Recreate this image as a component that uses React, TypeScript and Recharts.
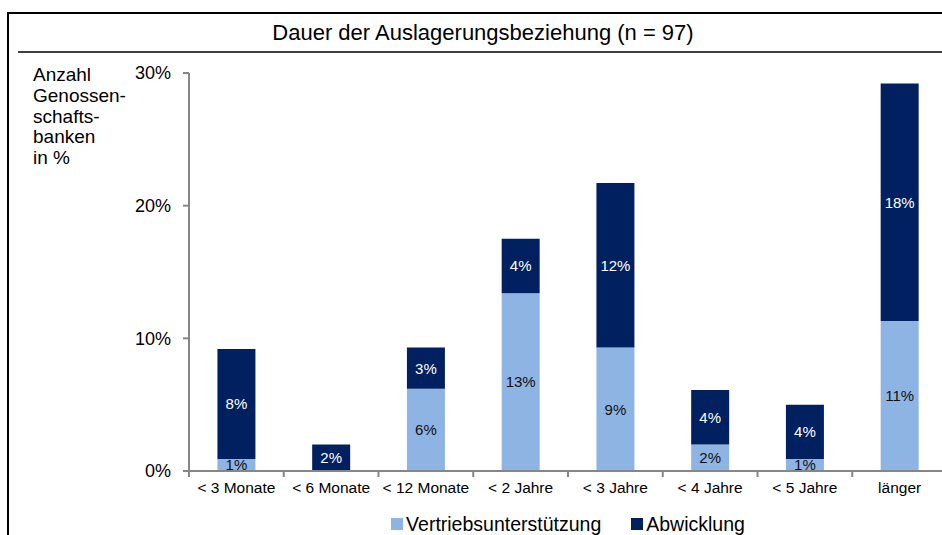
import React from "react";
import { BarChart, Bar, XAxis, YAxis, LabelList, Legend } from "recharts";

const categories = ["< 3 Monate", "< 6 Monate", "< 12 Monate", "< 2 Jahre", "< 3 Jahre", "< 4 Jahre", "< 5 Jahre", "länger"];
const vertrieb = [0.9, 0, 6.2, 13.4, 9.3, 2.0, 0.9, 11.3];
const abwicklung = [8.3, 2.0, 3.1, 4.1, 12.4, 4.1, 4.1, 17.9];
const yTicks = [0, 10, 20, 30];
const seriesNames = ["Vertriebsunterstützung", "Abwicklung"];
const title = "Dauer der Auslagerungsbeziehung (n = 97)";
const yLabelLines = ["Anzahl", "Genossen-", "schafts-", "banken", "in %"];

const LIGHT = "#8EB4E3";
const DARK = "#002060";
const AXIS = "#868686";
const FONT = '"Liberation Sans", Arial, sans-serif';

const data = categories.map((c, i) => ({ cat: c, v: vertrieb[i], a: abwicklung[i] }));

const fmt = (v: any) => (v ? `${Math.round(Number(v))}%` : "");

const XTick = (props: any) => {
  const { x, y, payload } = props;
  const half = payload && payload.offset ? payload.offset : 0;
  return (
    <g>
      <line x1={x - half} x2={x - half} y1={y} y2={y + 6} stroke={AXIS} strokeWidth={2} />
      <text x={x} y={y + 11} dy="0.71em" textAnchor="middle" fill="#000" fontSize={15.5} fontFamily={FONT}>
        {payload.value}
      </text>
    </g>
  );
};

const LegendContent = () => (
  <div style={{ display: "flex", justifyContent: "center", alignItems: "center", fontFamily: FONT, fontSize: 19.5, color: "#000", lineHeight: "22px" }}>
    {[LIGHT, DARK].map((col, i) => (
      <div key={i} style={{ display: "flex", alignItems: "center", marginLeft: i ? 30 : 0 }}>
        <span style={{ display: "inline-block", width: 12, height: 12, background: col, marginRight: 3 }} />
        <span>{seriesNames[i]}</span>
      </div>
    ))}
  </div>
);

export default function App() {
  return (
    <div style={{ position: "absolute", left: 0, top: 0, width: 942, height: 535, overflow: "hidden", background: "#fff", fontFamily: FONT }}>
      <div style={{ position: "absolute", left: 7, top: 12, width: 1000, height: 600, border: "2px solid #000" }} />
      <div style={{ position: "absolute", left: 18, top: 51, width: 1000, height: 0, borderTop: "2px solid #404040" }} />
      <div style={{ position: "absolute", left: 0, top: 20, width: 966, textAlign: "center", fontSize: 22, lineHeight: "26px", color: "#000" }}>
        {title}
      </div>
      <div style={{ position: "absolute", left: 33, top: 65, fontSize: 19, lineHeight: "20.75px", color: "#000" }}>
        {yLabelLines.map((l, i) => (
          <div key={i}>{l}</div>
        ))}
      </div>
      <div style={{ position: "absolute", left: 0, top: 0 }}>
        <BarChart
          width={960}
          height={535}
          data={data}
          margin={{ top: 73, bottom: 24, left: 129, right: 13 }}
          barCategoryGap="30%"
          style={{ fontFamily: FONT }}
        >
          <XAxis
            dataKey="cat"
            tickLine={false}
            tickSize={0}
            tickMargin={0}
            axisLine={{ stroke: AXIS, strokeWidth: 2 }}
            tick={<XTick />}
            interval={0}
            height={40}
          />
          <YAxis
            width={60}
            domain={[0, 30]}
            ticks={yTicks}
            tickFormatter={(v: number) => `${v}%`}
            tick={{ fill: "#000", fontSize: 18, fontFamily: FONT }}
            tickLine={{ stroke: AXIS, strokeWidth: 2 }}
            tickSize={6}
            tickMargin={12}
            axisLine={{ stroke: AXIS, strokeWidth: 2 }}
            allowDataOverflow
          />
          <Legend
            layout="horizontal"
            verticalAlign="middle"
            align="center"
            content={<LegendContent />}
            wrapperStyle={{ left: 189, width: 758, top: 513 }}
          />
          <Bar dataKey="v" name={seriesNames[0]} stackId="s" fill={LIGHT} isAnimationActive={false}>
            <LabelList dataKey="v" position="center" formatter={fmt} fill="#111" fontSize={15} fontFamily={FONT} />
          </Bar>
          <Bar dataKey="a" name={seriesNames[1]} stackId="s" fill={DARK} isAnimationActive={false}>
            <LabelList dataKey="a" position="center" formatter={fmt} fill="#fff" fontSize={15} fontFamily={FONT} />
          </Bar>
        </BarChart>
      </div>
    </div>
  );
}
